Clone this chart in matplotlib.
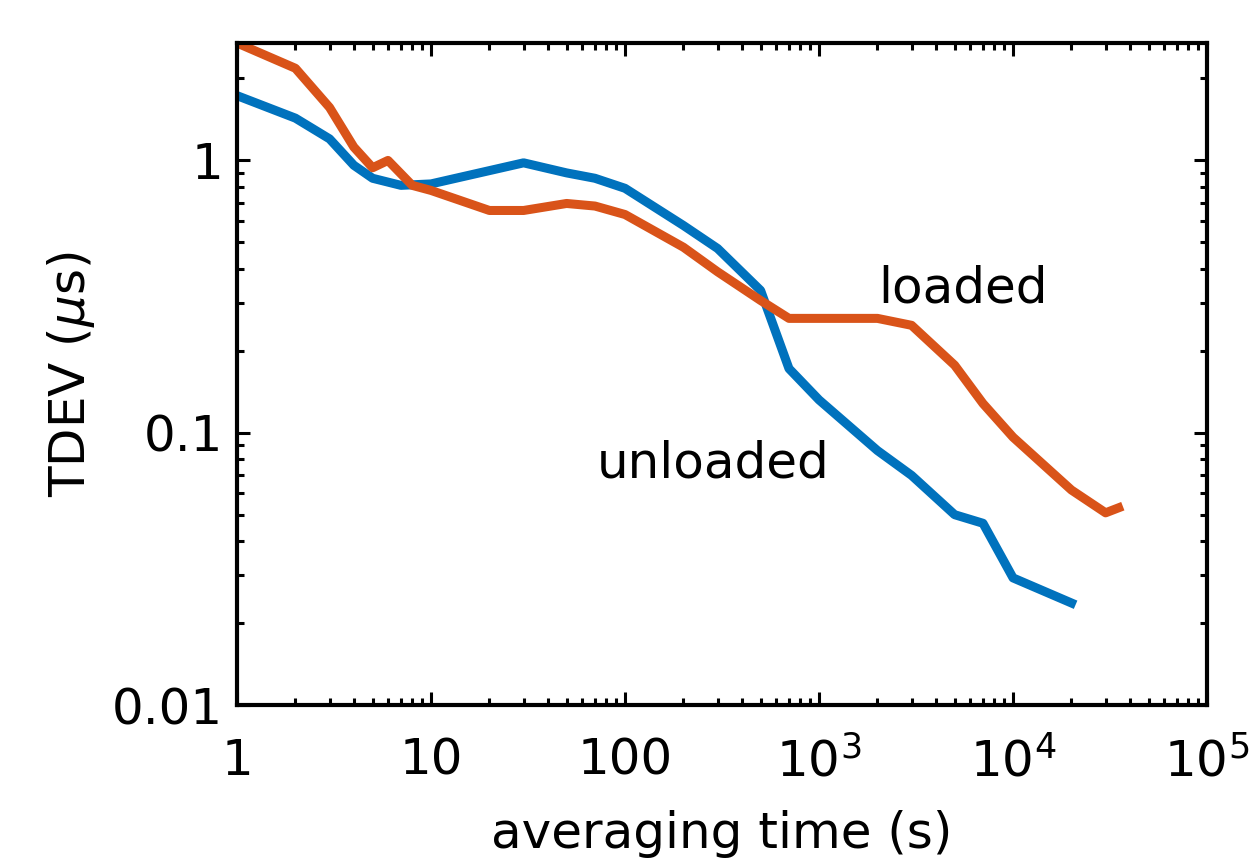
import numpy as np
import matplotlib
matplotlib.use("Agg")
import matplotlib.pyplot as plt
from matplotlib.ticker import FixedLocator, FixedFormatter, LogLocator, NullFormatter

# averaging time (s) and TDEV (us)
tau_unloaded = [1, 2, 3, 4, 5, 7, 10, 30, 50, 70, 100, 200, 300, 500, 700,
                1000, 2000, 3000, 5000, 7000, 10000, 20000]
tdev_unloaded = [1.73, 1.43, 1.20, 0.96, 0.86, 0.81, 0.82, 0.98, 0.90, 0.86, 0.79,
                 0.577, 0.475, 0.333, 0.172, 0.132, 0.086, 0.0697, 0.050, 0.0465,
                 0.0293, 0.0237]

tau_loaded = [1, 2, 3, 4, 5, 6, 8, 10, 20, 30, 50, 70, 100, 200, 300, 500, 700,
              2000, 3000, 5000, 7000, 10000, 20000, 30000, 35000]
tdev_loaded = [2.7, 2.18, 1.565, 1.12, 0.94, 1.0, 0.81, 0.776, 0.655, 0.655, 0.695,
               0.68, 0.633, 0.48, 0.39, 0.306, 0.263, 0.263, 0.248, 0.177, 0.128,
               0.0963, 0.0616, 0.0508, 0.053]

xticks = [1, 10, 100, 1e3, 1e4, 1e5]
xticklabels = ["1", "10", "100", r"$10^3$", r"$10^4$", r"$10^5$"]
yticks = [0.01, 0.1, 1]
yticklabels = ["0.01", "0.1", "1"]

blue = "#0072BD"
orange = "#D95319"

plt.rcParams["font.family"] = "DejaVu Sans"
plt.rcParams["mathtext.fontset"] = "dejavusans"

fig = plt.figure(figsize=(12.52, 8.58), dpi=100)
ax = fig.add_axes([0.1893, 0.1783, 0.7748, 0.7716])

ax.plot(tau_unloaded, tdev_unloaded, color=blue, lw=6.5)
ax.plot(tau_loaded, tdev_loaded, color=orange, lw=6.5)

ax.set_xscale("log")
ax.set_yscale("log")
ax.set_xlim(1, 1e5)
ax.set_ylim(0.01, 2.7)

ax.xaxis.set_major_locator(FixedLocator(xticks))
ax.xaxis.set_major_formatter(FixedFormatter(xticklabels))
ax.yaxis.set_major_locator(FixedLocator(yticks))
ax.yaxis.set_major_formatter(FixedFormatter(yticklabels))
ax.xaxis.set_minor_locator(LogLocator(base=10, subs=np.arange(2, 10), numticks=20))
ax.yaxis.set_minor_locator(LogLocator(base=10, subs=np.arange(2, 10), numticks=20))
ax.xaxis.set_minor_formatter(NullFormatter())
ax.yaxis.set_minor_formatter(NullFormatter())

ax.tick_params(which="both", direction="in", top=True, right=True, width=2.2,
               labelsize=36)
ax.tick_params(which="major", length=9.5)
ax.tick_params(which="minor", length=5)
ax.tick_params(axis="x", which="major", pad=23)
ax.tick_params(axis="y", which="major", pad=10)
for s in ax.spines.values():
    s.set_linewidth(3)

ax.set_xlabel("averaging time (s)", fontsize=36, labelpad=17)
ax.set_ylabel(r"TDEV ($\mu$s)", fontsize=36, labelpad=10.5)

ax.text(2015, 0.301, "loaded", fontsize=36, ha="left", va="baseline")
ax.text(71.7, 0.0687, "unloaded", fontsize=36, ha="left", va="baseline")

fig.savefig("out.png", dpi=100)
